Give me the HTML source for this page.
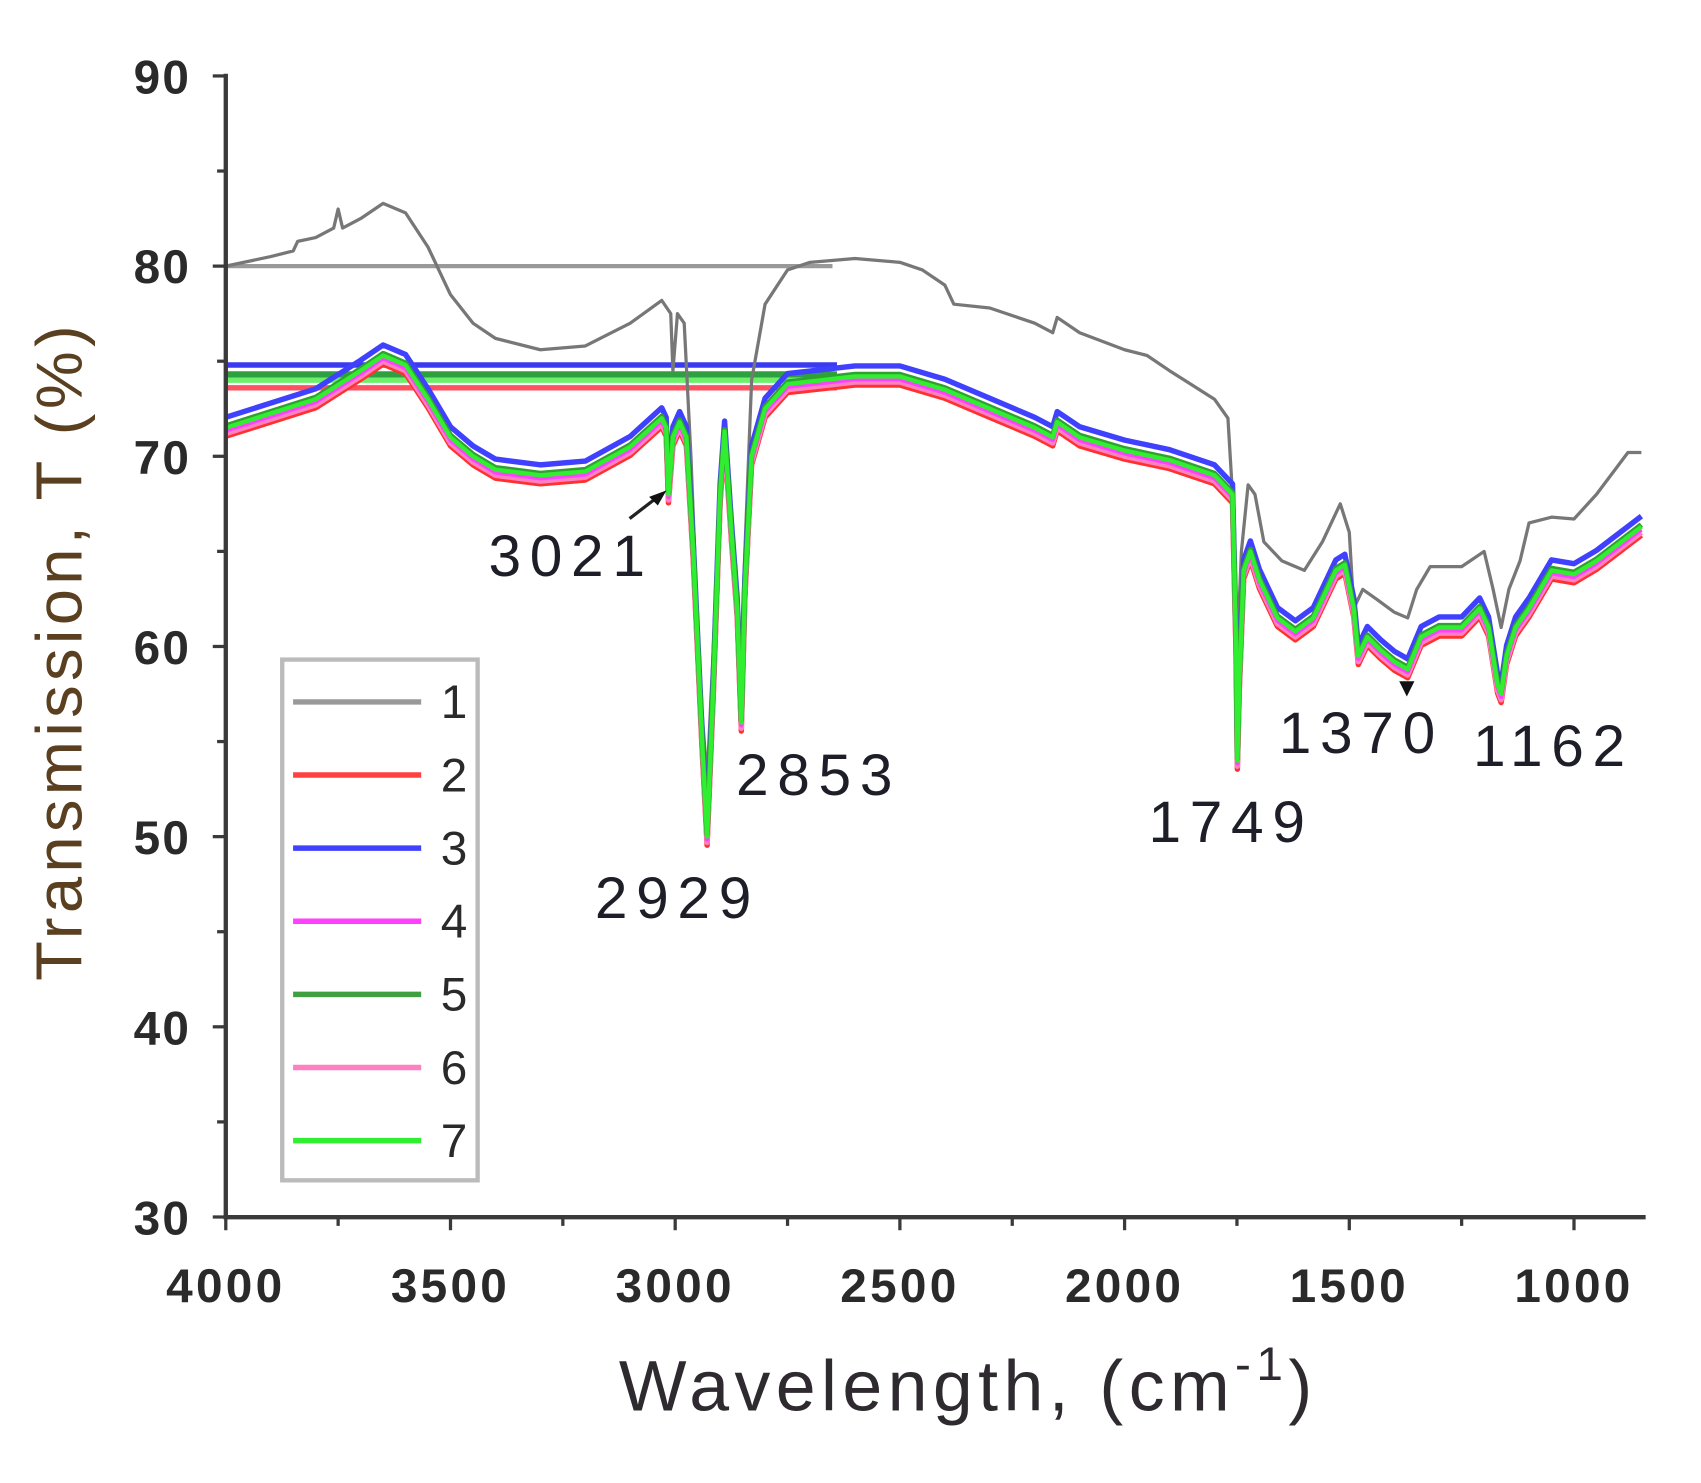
<!DOCTYPE html>
<html><head><meta charset="utf-8"><style>
html,body{margin:0;padding:0;background:#fff;}
svg{display:block;}
text{font-family:"Liberation Sans",Arial,sans-serif;}
</style></head><body>
<svg id="s" width="1701" height="1483" viewBox="0 0 1567 1367" preserveAspectRatio="none" xmlns="http://www.w3.org/2000/svg">
<rect width="1567" height="1367" fill="#fff"/>
<g id="curves"></g>
<g stroke="#3a3a3a" stroke-width="4" fill="none">
<line x1="208" y1="68" x2="208" y2="1124"/>
<line x1="206" y1="1122" x2="1516" y2="1122"/>
</g>
<g id="ticks" stroke="#3a3a3a" stroke-width="3"></g>
<g font-weight="bold" font-size="44" fill="#2a2a2a" text-anchor="end" letter-spacing="2">
<text x="176" y="86">90</text><text x="176" y="261">80</text><text x="176" y="437">70</text>
<text x="176" y="612">60</text><text x="176" y="787">50</text><text x="176" y="963">40</text><text x="176" y="1138">30</text>
</g>
<g font-weight="bold" font-size="44" fill="#2a2a2a" text-anchor="middle" letter-spacing="3">
<text x="208" y="1200">4000</text><text x="415" y="1200">3500</text><text x="622" y="1200">3000</text>
<text x="829" y="1200">2500</text><text x="1036" y="1200">2000</text><text x="1243" y="1200">1500</text><text x="1450" y="1200">1000</text>
</g>
<text x="892" y="1300" font-size="66" fill="#2e2a30" text-anchor="middle" letter-spacing="5">Wavelength, (cm<tspan dy="-28" font-size="44">-1</tspan><tspan dy="28">)</tspan></text>
<text transform="translate(75,600) rotate(-90)" font-size="60" fill="#5a4020" text-anchor="middle" letter-spacing="4">Transmission, T (%)</text>
<g font-size="54" fill="#1e1e28" letter-spacing="8">
<text x="450" y="531">3021</text>
<text x="548" y="846">2929</text>
<text x="678" y="733">2853</text>
<text x="1058" y="776">1749</text>
<text x="1178" y="694">1370</text>
<text x="1357" y="706">1162</text>
</g>
<line x1="580" y1="478" x2="606" y2="458" stroke="#222" stroke-width="3"/>
<polygon points="614,452 598,458 606,466" fill="#111"/>
<polygon points="1296,642 1289,628 1303,628" fill="#111"/>
<rect x="260" y="608" width="180" height="480" fill="#fff" stroke="#bbb" stroke-width="4"/>
<g id="leg"></g>
<script>
var NS="http://www.w3.org/2000/svg";
function X(w){return 208+(4000-w)*0.414;}
function Y(t){return 70+(90-t)*17.53;}
function path(pts,off,col,wdt,parent){
 var d="";pts.forEach(function(p,i){d+=(i?"L":"M")+X(p[0]).toFixed(1)+","+Y(p[1]+off).toFixed(1);});
 var e=document.createElementNS(NS,"path");e.setAttribute("d",d);e.setAttribute("fill","none");
 e.setAttribute("stroke",col);e.setAttribute("stroke-width",wdt);e.setAttribute("stroke-linejoin","round");
 (parent||document.getElementById("curves")).appendChild(e);}
function line(x1,y1,x2,y2,col,w,par){var e=document.createElementNS(NS,"line");
 e.setAttribute("x1",x1);e.setAttribute("y1",y1);e.setAttribute("x2",x2);e.setAttribute("y2",y2);
 e.setAttribute("stroke",col);e.setAttribute("stroke-width",w);(par||document.getElementById("curves")).appendChild(e);}
var g1=[[4000,80],[3900,80.5],[3850,80.8],[3840,81.3],[3800,81.5],[3760,82],[3750,83],[3740,82],[3700,82.5],[3650,83.3],[3600,82.8],[3550,81],[3500,78.5],[3450,77],[3400,76.2],[3300,75.6],[3200,75.8],[3100,77],[3030,78.2],[3010,77.5],[3005,74.5],[2995,77.5],[2980,77],[2965,70],[2945,58],[2929,53],[2915,60],[2900,69],[2890,71.5],[2875,67],[2862,62],[2853,60],[2845,65],[2830,74],[2800,78],[2750,79.8],[2700,80.2],[2600,80.4],[2500,80.2],[2450,79.8],[2400,79],[2380,78],[2300,77.8],[2200,77],[2160,76.5],[2150,77.3],[2100,76.5],[2000,75.6],[1950,75.3],[1900,74.5],[1800,73],[1770,72],[1760,68],[1749,60],[1740,65],[1725,68.5],[1710,68],[1690,65.5],[1650,64.5],[1600,64],[1560,65.5],[1520,67.5],[1500,66],[1490,62],[1470,63],[1440,62.5],[1400,61.8],[1370,61.5],[1350,63],[1320,64.2],[1250,64.2],[1200,65],[1180,63],[1162,61],[1145,63],[1120,64.5],[1100,66.5],[1050,66.8],[1000,66.7],[950,68],[880,70.2],[850,70.2]];
var c=[[4000,71.5],[3800,73],[3700,74.5],[3650,75.3],[3600,74.8],[3550,73],[3500,71],[3450,70],[3400,69.3],[3300,69],[3200,69.2],[3100,70.5],[3030,72],[3020,71.5],[3015,68],[3005,71],[2990,71.8],[2975,71],[2960,65],[2940,55],[2929,50],[2915,58],[2900,68],[2890,71.3],[2875,66],[2862,62],[2853,56],[2845,63],[2830,70],[2800,72.5],[2750,73.8],[2600,74.2],[2500,74.2],[2400,73.5],[2300,72.5],[2200,71.5],[2160,71],[2150,71.8],[2100,71],[2000,70.3],[1900,69.8],[1800,69],[1760,68],[1752,60],[1749,54],[1745,58],[1735,64],[1720,65],[1700,63.5],[1660,61.5],[1620,60.8],[1580,61.5],[1530,64],[1510,64.3],[1490,62],[1480,59.5],[1460,60.5],[1430,59.8],[1400,59.2],[1370,58.8],[1340,60.5],[1300,61],[1250,61],[1210,62],[1190,61],[1170,58],[1162,57.5],[1150,59.5],[1130,61],[1100,62],[1050,64],[1000,63.8],[950,64.5],[850,66.3]];
line(208,Y(80),X(2650),Y(80),"#999",4);
line(208,Y(74.8),X(2640),Y(74.8),"#3a3af0",5);
line(208,Y(74.3),X(2640),Y(74.3),"#2ea040",6);
line(208,Y(74.0),X(2640),Y(74.0),"#6cf06c",5);
line(208,Y(73.6),X(2640),Y(73.6),"#ff5060",5);
path(g1,0,"#777",3);
path(c,-0.45,"#ff3030",5);
path(c,-0.3,"#ff80c0",5);
path(c,0.55,"#4040ff",5);
path(c,-0.15,"#ff40ff",4);
path(c,0.1,"#30a030",5);
path(c,0,"#30ee30",4);
var tk=document.getElementById("ticks");
for(var t=30;t<=90;t+=5){line(t%10?200:196,Y(t),208,Y(t),"#3a3a3a",3,tk);}
for(var w=4000;w>=850;w-=250){line(X(w),1122,X(w),w%500?1130:1134,"#3a3a3a",3,tk);}
var lg=document.getElementById("leg");
var cols=["#999","#ff4040","#4040ff","#ff40ff","#40a040","#ff80c0","#30ee30"];
for(var i=0;i<7;i++){var y=647+i*67.4;line(270,y,388,y,cols[i],5,lg);
 var tx=document.createElementNS(NS,"text");tx.setAttribute("x",406);tx.setAttribute("y",y+15);
 tx.setAttribute("font-size","44");tx.setAttribute("fill","#2a2a2a");tx.textContent=(i+1);lg.appendChild(tx);}
</script>
</svg>
</body></html>
